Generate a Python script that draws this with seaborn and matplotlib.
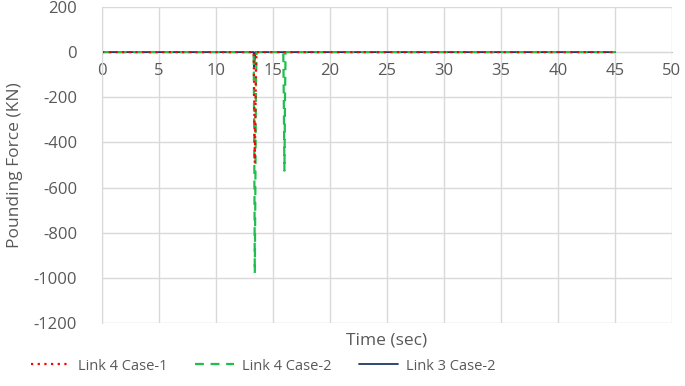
import numpy as np
import pandas as pd
from matplotlib import pyplot as plt
import seaborn as sns

# values (time in sec, force in KN)
t_l4c1 = [0, 13.30, 13.35, 13.40, 13.45, 13.50, 13.55, 45]
f_l4c1 = [0, 0, -200, -490, -300, -80, 0, 0]

t_l4c2 = [0, 13.30, 13.35, 13.40, 13.45, 13.50, 13.55, 15.90, 15.95, 16.00, 16.05, 16.10, 45]
f_l4c2 = [0, 0, -400, -980, -600, -150, 0, 0, -250, -525, -200, 0, 0]

t_l3c2 = [0, 13.30, 13.35, 13.40, 13.45, 45]
f_l3c2 = [0, 0, -65, -30, 0, 0]

series = ['Link 4 Case-1', 'Link 4 Case-2', 'Link 3 Case-2']
colors = ['#ff0000', '#1fbf4f', '#1f3864']

x_ticks = list(range(0, 55, 5))
y_ticks = list(range(-1200, 400, 200))

df = pd.concat([
    pd.DataFrame({'Time': t_l4c1, 'Force': f_l4c1, 'Series': series[0]}),
    pd.DataFrame({'Time': t_l4c2, 'Force': f_l4c2, 'Series': series[1]}),
    pd.DataFrame({'Time': t_l3c2, 'Force': f_l3c2, 'Series': series[2]}),
], ignore_index=True)

sns.set_style('white')
plt.rcParams['font.family'] = ['Open Sans', 'DejaVu Sans']
plt.rcParams['axes.unicode_minus'] = False
grey = '#595959'

fig = plt.figure(figsize=(6.85, 3.86), dpi=100)
ax = fig.add_axes([0.149, 0.163, 0.832, 0.819])

styles = {series[0]: (0, (1, 2)), series[1]: (0, (4, 3)), series[2]: '-'}
for name, col in zip(series[::-1], colors[::-1]):
    sub = df[df['Series'] == name]
    sns.lineplot(data=sub, x='Time', y='Force', ax=ax, color=col,
                 linestyle=styles[name], linewidth=1.6 if name != series[2] else 1.3,
                 label=name, sort=False, estimator=None)

ax.set_xlim(0, 50)
ax.set_ylim(-1200, 200)
ax.set_xticks(x_ticks)
ax.set_yticks(y_ticks)
ax.grid(True, color='#d9d9d9', linewidth=1)
for s in ['top', 'right']:
    ax.spines[s].set_visible(False)
ax.spines['left'].set_color('#d9d9d9')
ax.spines['bottom'].set_position(('data', 0))
ax.spines['bottom'].set_color('#bfbfbf')
ax.spines['bottom'].set_zorder(0)
ax.tick_params(axis='both', length=0, labelsize=12, colors=grey)
ax.tick_params(axis='x', pad=8)
ax.tick_params(axis='y', pad=18)

ax.set_xlabel('Time (sec)', fontsize=12.5, color=grey)
ax.xaxis.set_label_coords(0.5, -0.03)
ax.set_ylabel('Pounding Force (KN)', fontsize=12.5, color=grey)
ax.yaxis.set_label_coords(-0.138, 0.5)

h, l = ax.get_legend_handles_labels()
ax.legend(h[::-1], l[::-1], loc='center left', bbox_to_anchor=(18 / 685, 1 - 366 / 386),
          bbox_transform=fig.transFigure,
          ncol=3, frameon=False, fontsize=10.5, labelcolor=grey,
          handlelength=2.7, columnspacing=1.9, handletextpad=0.5)

fig.savefig('out.png', dpi=100)
